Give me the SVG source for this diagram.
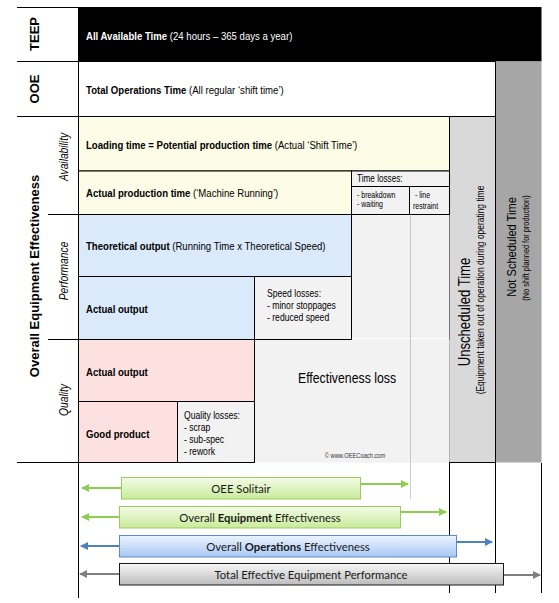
<svg xmlns="http://www.w3.org/2000/svg" width="559" height="603" viewBox="0 0 559 603">
<defs>
<style>
.n{font-family:"Liberation Sans",Arial,sans-serif;fill:#000}
.w{fill:#fff}
.b{font-weight:bold}
.it{font-style:italic}
.lbl{font-family:"Liberation Sans",Arial,sans-serif;font-weight:bold;font-size:13px;fill:#000}
.bar{font-family:Lato,"Liberation Sans",sans-serif;font-size:11.3px;fill:#1a1a1a}
.cell{stroke:#000;stroke-width:1}
.ln{stroke:#000;stroke-width:1;fill:none}
.y{fill:#fdfde7}
.bl{fill:#dbeafb}
.pk{fill:#fde0e0}
.gr{fill:#f2f2f2}
</style>
<linearGradient id="gG" x1="0" y1="0" x2="0" y2="1"><stop offset="0" stop-color="#f4fce8"/><stop offset="1" stop-color="#c8eb9a"/></linearGradient>
<linearGradient id="gB" x1="0" y1="0" x2="0" y2="1"><stop offset="0" stop-color="#edf4ff"/><stop offset="1" stop-color="#a9c8f4"/></linearGradient>
<linearGradient id="gK" x1="0" y1="0" x2="0" y2="1"><stop offset="0" stop-color="#f7f7f7"/><stop offset="1" stop-color="#bcbcbc"/></linearGradient>
<marker id="mG" markerWidth="8" markerHeight="8" refX="7" refY="4" orient="auto" markerUnits="userSpaceOnUse"><path d="M0,0 L8,4 L0,8 z" fill="#8fcd4f"/></marker>
<marker id="mB" markerWidth="8" markerHeight="8" refX="7" refY="4" orient="auto" markerUnits="userSpaceOnUse"><path d="M0,0 L8,4 L0,8 z" fill="#4f81bd"/></marker>
<marker id="mK" markerWidth="8" markerHeight="8" refX="7" refY="4" orient="auto" markerUnits="userSpaceOnUse"><path d="M0,0 L8,4 L0,8 z" fill="#808080"/></marker>
</defs>
<rect width="559" height="603" fill="#fff"/>

<g id="frame">
<path class="ln" d="M17,7.5H78 M17,61.5H78 M17,116.5H78 M48,214.5H78 M48,339.5H78 M17,462.5H78 M78.5,7V598"/>
<text class="lbl" transform="translate(39,34) rotate(-90)" text-anchor="middle">TEEP</text>
<text class="lbl" transform="translate(39,89) rotate(-90)" text-anchor="middle">OOE</text>
<text class="lbl" transform="translate(39,276) rotate(-90)" text-anchor="middle">Overall Equipment Effectiveness</text>
<text class="n it" font-size="12.5" transform="translate(68,157) rotate(-90) scale(0.82,1)" text-anchor="middle">Availability</text>
<text class="n it" font-size="12.5" transform="translate(68,271) rotate(-90) scale(0.82,1)" text-anchor="middle">Performance</text>
<text class="n it" font-size="12.5" transform="translate(68,400) rotate(-90) scale(0.82,1)" text-anchor="middle">Quality</text>
</g>

<g id="teep-row">
<rect x="78.5" y="7" width="463" height="54.5" fill="#000"/>
<text class="n w" font-size="11.7" transform="translate(86,40) scale(0.82,1)"><tspan class="b">All Available Time</tspan> (24 hours – 365 days a year)</text>
</g>

<g id="not-scheduled">
<rect x="495.5" y="61.5" width="46" height="401" fill="#a6a6a6"/>
<text class="n" font-size="13.5" transform="translate(516,247) rotate(-90) scale(0.82,1)" text-anchor="middle">Not Scheduled Time</text>
<text class="n" font-size="9" transform="translate(529,248) rotate(-90) scale(0.82,1)" text-anchor="middle">(No shift planned for production)</text>
</g>

<g id="ooe-row">
<rect x="78.5" y="61.5" width="417" height="55" fill="#fff" class="cell"/>
<text class="n" font-size="11.7" transform="translate(86,94) scale(0.82,1)"><tspan class="b">Total Operations Time</tspan> (All regular ‘shift time’)</text>
</g>

<g id="unscheduled">
<rect x="449.5" y="116.5" width="46" height="346" fill="#d9d9d9" class="cell"/>
<text class="n" font-size="16" transform="translate(470,312) rotate(-90) scale(0.82,1)" text-anchor="middle">Unscheduled Time</text>
<text class="n" font-size="10.3" transform="translate(484,290) rotate(-90) scale(0.82,1)" text-anchor="middle">(Equipment taken out of operation during operating time</text>
</g>

<g id="loss-area">
<rect x="351.5" y="214.5" width="98" height="248" class="gr"/>
<rect x="254.5" y="339.5" width="195" height="123" class="gr"/>
<path d="M352,338.5H448" stroke="#fff" stroke-width="1"/>
<text class="n" font-size="15" transform="translate(347,383) scale(0.82,1)" text-anchor="middle">Effectiveness loss</text>
<text class="n" font-size="7" transform="translate(355,458) scale(0.82,1)" text-anchor="middle" style="fill:#333">© www.OEECoach.com</text>
</g>

<g id="loading-time">
<rect x="78.5" y="116.5" width="371" height="54.5" class="cell y"/>
<text class="n" font-size="11.7" transform="translate(86,149) scale(0.82,1)"><tspan class="b">Loading time = Potential production time</tspan> (Actual ‘Shift Time’)</text>
</g>

<g id="actual-production-time">
<rect x="78.5" y="171" width="273" height="43.5" class="cell y"/>
<text class="n" font-size="11.7" transform="translate(86,197) scale(0.82,1)"><tspan class="b">Actual production time</tspan> (‘Machine Running’)</text>
</g>

<g id="time-losses">
<rect x="351.5" y="171" width="98" height="43.5" class="cell gr"/>
<path class="ln" d="M351.5,186.5H449.5 M409.5,186.5V214.5"/>
<text class="n" font-size="10" transform="translate(357,182) scale(0.82,1)">Time losses:</text>
<text class="n" font-size="8.5" transform="translate(357,198) scale(0.82,1)">- breakdown</text>
<text class="n" font-size="8.5" transform="translate(357,207) scale(0.82,1)">- waiting</text>
<text class="n" font-size="8.5" transform="translate(415,198) scale(0.82,1)">- line</text>
<text class="n" font-size="8.5" transform="translate(413,209) scale(0.82,1)">restraint</text>
</g>

<g id="theoretical-output">
<rect x="78.5" y="214.5" width="273" height="62" class="cell bl"/>
<text class="n" font-size="11.7" transform="translate(86,250) scale(0.82,1)"><tspan class="b">Theoretical output</tspan> (Running Time x Theoretical Speed)</text>
</g>

<g id="actual-output-perf">
<rect x="78.5" y="276.5" width="176" height="63" class="cell bl"/>
<text class="n b" font-size="11.7" transform="translate(86,313) scale(0.82,1)">Actual output</text>
</g>

<g id="speed-losses">
<rect x="254.5" y="276.5" width="97" height="63" class="cell gr"/>
<text class="n" font-size="10.5" transform="translate(267,297) scale(0.82,1)">Speed losses:</text>
<text class="n" font-size="10.5" transform="translate(267,309) scale(0.82,1)">- minor stoppages</text>
<text class="n" font-size="10.5" transform="translate(267,321) scale(0.82,1)">- reduced speed</text>
</g>

<g id="actual-output-quality">
<rect x="78.5" y="339.5" width="176" height="62" class="cell pk"/>
<text class="n b" font-size="11.7" transform="translate(86,376) scale(0.82,1)">Actual output</text>
</g>

<g id="good-product">
<rect x="78.5" y="401.5" width="99" height="61" class="cell pk"/>
<text class="n b" font-size="11.7" transform="translate(86,438) scale(0.82,1)">Good product</text>
</g>

<g id="quality-losses">
<rect x="177.5" y="401.5" width="77" height="61" class="cell gr"/>
<text class="n" font-size="10.5" transform="translate(184,419) scale(0.82,1)">Quality losses:</text>
<text class="n" font-size="10.5" transform="translate(184,431) scale(0.82,1)">- scrap</text>
<text class="n" font-size="10.5" transform="translate(184,443) scale(0.82,1)">- sub-spec</text>
<text class="n" font-size="10.5" transform="translate(184,455) scale(0.82,1)">- rework</text>
</g>

<g id="guides">
<path d="M410.5,214.5V499" stroke="#9a9a9a" stroke-width="1" stroke-dasharray="1,1"/>
<path class="ln" d="M449.5,462V593 M495.5,462V593 M541.5,463V593"/>
</g>

<g id="connectors">
<path d="M121,488H82" stroke="#8fcd4f" stroke-width="2" marker-end="url(#mG)"/>
<path d="M361,484H408" stroke="#8fcd4f" stroke-width="2" marker-end="url(#mG)"/>
<path d="M119,517H82" stroke="#8fcd4f" stroke-width="2" marker-end="url(#mG)"/>
<path d="M400,512H446" stroke="#8fcd4f" stroke-width="2" marker-end="url(#mG)"/>
<path d="M119,546H81" stroke="#4f81bd" stroke-width="2" marker-end="url(#mB)"/>
<path d="M456,542H492" stroke="#4f81bd" stroke-width="2" marker-end="url(#mB)"/>
<path d="M119,574H80" stroke="#808080" stroke-width="2" marker-end="url(#mK)"/>
<path d="M503,575H540" stroke="#808080" stroke-width="2" marker-end="url(#mK)"/>
</g>

<g id="oee-solitair">
<rect x="121.5" y="477.5" width="239" height="21.5" fill="url(#gG)" stroke="#9ccb5f"/>
<text class="bar" x="241" y="492.5" text-anchor="middle">OEE Solitair</text>
</g>
<g id="oee">
<rect x="119.5" y="506.5" width="281" height="21.5" fill="url(#gG)" stroke="#9ccb5f"/>
<text class="bar" x="260" y="521.5" text-anchor="middle">Overall <tspan font-weight="bold">Equipment</tspan> Effectiveness</text>
</g>
<g id="ooe">
<rect x="119.5" y="535.5" width="337" height="21.5" fill="url(#gB)" stroke="#5a8bd0"/>
<text class="bar" x="288" y="550.5" text-anchor="middle">Overall <tspan font-weight="bold">Operations</tspan> Effectiveness</text>
</g>
<g id="teep">
<rect x="119.5" y="563.5" width="384" height="21.5" fill="url(#gK)" stroke="#1a1a1a"/>
<text class="bar" x="311" y="578.5" text-anchor="middle">Total Effective Equipment Performance</text>
</g>
</svg>
